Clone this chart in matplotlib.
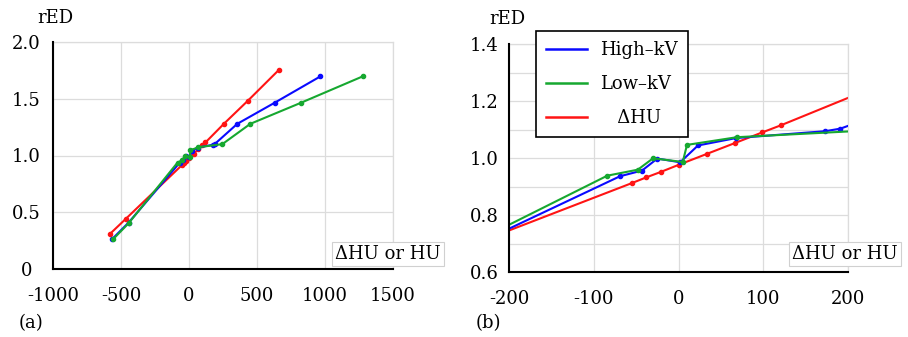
import matplotlib
matplotlib.use("Agg")
import matplotlib.pyplot as plt

# ------------------- данные -------------------
high_x = [-564, -444, -69, -43, -25, 2, 23, 68, 173, 191, 355, 630, 966]
high_y = [0.265, 0.409, 0.936, 0.956, 0.998, 0.985, 1.044, 1.070, 1.094, 1.103, 1.279, 1.465, 1.697]

low_x = [-556, -444, -84, -48, -30, 5, 10, 69, 245, 451, 824, 1277]
low_y = [0.265, 0.403, 0.938, 0.959, 0.999, 0.986, 1.046, 1.073, 1.100, 1.279, 1.465, 1.697]

dhu_x = [-583, -463, -55, -38, -21, 1, 34, 67, 99, 121, 257, 434, 659]
dhu_y = [0.307, 0.444, 0.912, 0.932, 0.951, 0.977, 1.015, 1.053, 1.090, 1.115, 1.280, 1.484, 1.752]

a_xticks = [-1000, -500, 0, 500, 1000, 1500]
a_yticks = [0, 0.5, 1.0, 1.5, 2.0]
a_ylabels = ['0', '0.5', '1.0', '1.5', '2.0']
b_xticks = [-200, -100, 0, 100, 200]
b_yticks = [0.6, 0.8, 1.0, 1.2, 1.4]
b_ygrid = [0.7, 0.9, 1.1, 1.3]

# (подпись, x, y, цвет, порядок отрисовки)
series = [
    ('High\u2013kV', high_x, high_y, '#0a0aff', 3),
    ('Low\u2013kV', low_x, low_y, '#16a830', 4),
    ('   \u0394HU', dhu_x, dhu_y, '#ff1414', 2),
]

plt.rcParams['font.family'] = ['DejaVu Serif']
plt.rcParams['axes.unicode_minus'] = False
FS = 13
GRID = '#dcdcdc'

fig = plt.figure(figsize=(9.08, 3.37), dpi=100)
ax_a = fig.add_axes([53 / 908, 1 - 269 / 337, 340 / 908, 227 / 337])
ax_b = fig.add_axes([509 / 908, 1 - 272 / 337, 339 / 908, 228 / 337])


def style_axes(ax, xticks, yticks, ylabels, ypad):
    ax.set_xticks(xticks)
    ax.set_yticks(yticks)
    ax.set_yticklabels(ylabels)
    ax.grid(True, color=GRID, linewidth=0.9)
    ax.set_axisbelow(True)
    for s in ('top', 'right'):
        ax.spines[s].set_color(GRID)
        ax.spines[s].set_linewidth(0.9)
    for s in ('left', 'bottom'):
        ax.spines[s].set_color('black')
        ax.spines[s].set_linewidth(1.5)
        ax.spines[s].set_zorder(5)
    ax.tick_params(axis='both', length=0, labelsize=FS)
    ax.tick_params(axis='x', pad=13)
    ax.tick_params(axis='y', pad=ypad)
    for t in ax.get_yticklabels():
        t.set_ha('center')


# ------------------- (a) -------------------
for name, x, y, c, z in series:
    ax_a.plot(x, y, '-o', color=c, lw=1.5, markersize=3, zorder=z)
ax_a.set_xlim(-1000, 1500)
ax_a.set_ylim(0, 2.0)
style_axes(ax_a, a_xticks, a_yticks, a_ylabels, 19)

# ------------------- (b) -------------------
for name, x, y, c, z in series:
    ax_b.plot(x, y, '-o', color=c, lw=1.5, markersize=3, zorder=z)
ax_b.set_xlim(-200, 200)
ax_b.set_ylim(0.6, 1.4)
style_axes(ax_b, b_xticks, b_yticks, [f'{v:.1f}' for v in b_yticks], 18)
for v in b_ygrid:
    ax_b.axhline(v, color=GRID, lw=0.9, zorder=0)

leg = ax_b.legend(handles=[plt.Line2D([], [], color=s[3], lw=1.8) for s in series],
                  labels=[s[0] for s in series],
                  loc='upper left', bbox_to_anchor=(536 / 908, 1 - 31 / 337),
                  bbox_transform=fig.transFigure, borderaxespad=0,
                  fontsize=FS, frameon=True, fancybox=False, framealpha=1,
                  handlelength=2.3, handletextpad=0.7, labelspacing=0.9,
                  borderpad=0.55)
leg.get_frame().set_edgecolor('black')
leg.get_frame().set_linewidth(1.2)
leg.set_zorder(10)

# ------------------- подписи -------------------
for xc in (388, 845):
    fig.text(xc / 908, 1 - 254 / 337, '\u0394HU or HU', fontsize=FS, ha='center', va='center',
             bbox=dict(boxstyle='square,pad=0.15', fc='white', ec='#d0d0d0', lw=0.8), zorder=20)

fig.text(55 / 908, 1 - 18 / 337, 'rED', fontsize=FS, ha='center', va='center')
fig.text(507 / 908, 1 - 19 / 337, 'rED', fontsize=FS, ha='center', va='center')
fig.text(31 / 908, 1 - 323 / 337, '(a)', fontsize=FS, ha='center', va='center')
fig.text(488 / 908, 1 - 323 / 337, '(b)', fontsize=FS, ha='center', va='center')

fig.savefig('out.png', dpi=100)
